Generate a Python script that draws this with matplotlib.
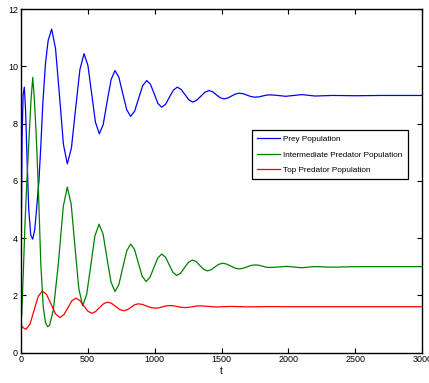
import matplotlib
matplotlib.use('Agg')
import matplotlib.pyplot as plt
import numpy as np

# ---- data ----
prey_t = [0, 4, 10, 18, 27, 36, 47, 60, 75, 90, 105, 120, 136, 150, 165, 185, 205, 231,
          260, 290, 319, 348, 379, 410, 442, 473, 502, 530, 558, 587, 616, 645, 675, 704,
          733, 762, 792, 821, 851, 881, 911, 941, 969, 997, 1025, 1053, 1082, 1111, 1141,
          1170, 1198, 1227, 1256, 1284, 1314, 1345, 1375, 1406, 1434, 1462, 1490, 1518,
          1547, 1575, 1604, 1633, 1662, 1691, 1720, 1750, 1778, 1806, 1834, 1862, 1900,
          1980, 2100, 2200, 2330, 2500, 2700, 3000]
prey_v = [1.0, 4.0, 7.5, 9.0, 9.27, 8.5, 6.8, 5.0, 4.1, 3.96, 4.3, 5.1, 6.0, 7.2, 8.7, 10.1, 10.9, 11.3,
          10.62, 8.95, 7.27, 6.59, 7.15, 8.52, 9.88, 10.44, 10.03, 9.04, 8.05, 7.64, 7.96, 8.75, 9.53, 9.85,
          9.62, 9.05, 8.48, 8.25, 8.43, 8.88, 9.32, 9.50, 9.37, 9.04, 8.70, 8.57, 8.67, 8.92, 9.17,
          9.27, 9.19, 9.01, 8.83, 8.75, 8.81, 8.95, 9.09, 9.15, 9.11, 9.00, 8.90, 8.86,
          8.89, 8.96, 9.03, 9.06, 9.04, 8.99, 8.94, 8.92, 8.93, 8.96, 8.99, 9.0, 8.99,
          8.95, 9.01, 8.96, 8.98, 8.97, 8.98, 8.98]

mid_t = [0, 8, 20, 32, 45, 64, 77, 90, 102, 115, 132, 150, 168, 185, 200, 215, 244, 281, 318, 348,
         377, 405, 434, 463, 493, 524, 554, 585, 615, 644, 674, 704, 733, 762, 792, 821,
         850, 878, 907, 936, 965, 994, 1024, 1053, 1081, 1109, 1137, 1165, 1194, 1223, 1253,
         1282, 1310, 1338, 1366, 1394, 1422, 1451, 1480, 1508, 1538, 1569, 1600, 1630, 1660,
         1690, 1720, 1750, 1778, 1806, 1834, 1862, 1900, 1990, 2100, 2190, 2330, 2500, 3000]
mid_v = [1.0, 1.38, 2.88, 4.5, 5.9, 7.67, 8.83, 9.61, 8.83, 7.67, 5.7, 3.1, 1.6, 1.05, 0.9, 0.95, 1.49, 3.1, 5.1, 5.78,
         5.18, 3.71, 2.23, 1.63, 2.04, 3.06, 4.07, 4.48, 4.14, 3.31, 2.47, 2.13, 2.37, 2.96, 3.55, 3.79,
         3.60, 3.14, 2.67, 2.48, 2.62, 2.96, 3.30, 3.44, 3.33, 3.07, 2.80, 2.69, 2.77, 2.96, 3.15,
         3.23, 3.18, 3.04, 2.91, 2.85, 2.89, 2.99, 3.08, 3.12, 3.09, 3.02, 2.95, 2.92, 2.94,
         2.99, 3.04, 3.06, 3.05, 3.015, 2.98, 2.97, 2.98, 3.01, 2.96, 3.0, 2.98, 3.0, 3.0]

top_t = [0, 20, 40, 70, 100, 131, 161, 194, 227, 260, 293, 322, 352, 381, 411, 441, 470, 500,
         530, 559, 588, 618, 647, 678, 709, 740, 771, 798, 824, 851, 878, 909, 940, 972,
         1003, 1031, 1059, 1087, 1115, 1143, 1171, 1199, 1227, 1255, 1283, 1311, 1339,
         1400, 1460, 1570, 1700, 1850, 2000, 3000]
top_v = [0.97, 0.86, 0.81, 1.0, 1.48, 1.96, 2.15, 2.02, 1.69, 1.35, 1.22, 1.32, 1.56, 1.80, 1.90, 1.82, 1.64, 1.45,
         1.37, 1.43, 1.57, 1.70, 1.76, 1.72, 1.61, 1.50, 1.46, 1.50, 1.58, 1.67, 1.70, 1.68, 1.625, 1.57,
         1.55, 1.56, 1.595, 1.63, 1.64, 1.63, 1.605, 1.58, 1.57, 1.58, 1.60, 1.62, 1.63,
         1.61, 1.59, 1.61, 1.595, 1.605, 1.60, 1.60]

labels = ['Prey Population', 'Intermediate Predator Population', 'Top Predator Population']

plt.rcParams['font.family'] = ['Liberation Sans Narrow', 'Liberation Sans', 'DejaVu Sans']

fig = plt.figure(figsize=(4.29, 3.83), dpi=100, facecolor='white')
ax = fig.add_axes([0.0483, 0.0796, 0.9361, 0.8969])

ax.plot(prey_t, prey_v, color='#0000ff', lw=0.9, label=labels[0])
ax.plot(mid_t, mid_v, color='#008000', lw=0.9, label=labels[1])
ax.plot(top_t, top_v, color='#ff0000', lw=0.9, label=labels[2])

ax.set_xlim(0, 3000)
ax.set_ylim(0, 12)
ax.set_xticks(np.arange(0, 3001, 500))
ax.set_yticks(np.arange(0, 13, 2))
ax.tick_params(direction='in', length=3.5, width=0.8, labelsize=6.5, pad=2,
               top=True, right=True)
for s in ax.spines.values():
    s.set_linewidth(1.0)
ax.set_xlabel('t', fontsize=7, labelpad=1)

leg = ax.legend(loc='upper left', bbox_to_anchor=(251.7 / 429, 1 - 130 / 383),
                bbox_transform=fig.transFigure, borderaxespad=0, fontsize=5.9,
                fancybox=False, edgecolor='black', framealpha=1,
                handlelength=2.8, handletextpad=0.4, labelspacing=0.95,
                borderpad=0.65)
leg.get_frame().set_linewidth(0.9)

fig.savefig('out.png', dpi=100)
